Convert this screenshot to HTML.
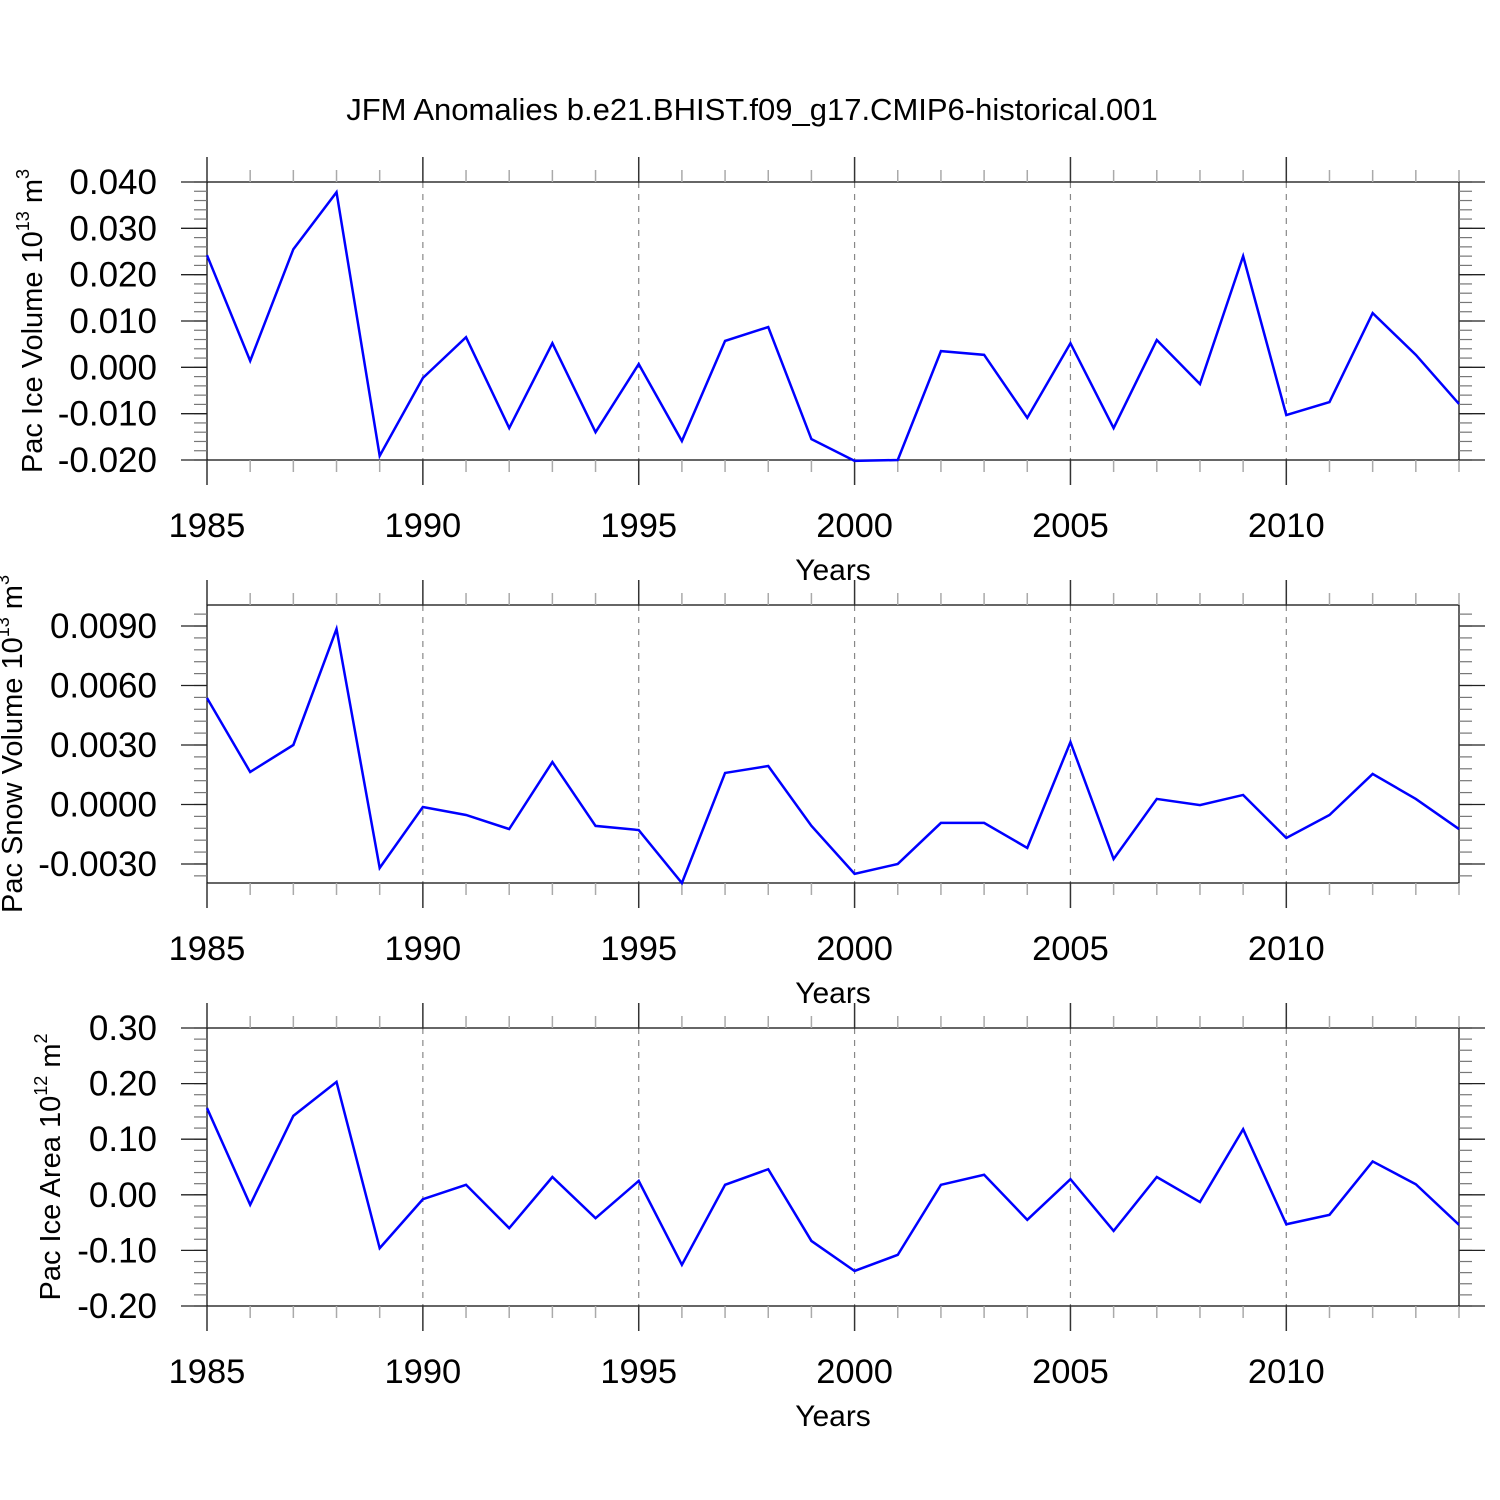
<!DOCTYPE html>
<html><head><meta charset="utf-8"><style>
body{margin:0;background:#fff}
svg{display:block;font-family:"Liberation Sans",sans-serif}
</style></head><body>
<svg id="c" width="1500" height="1500" viewBox="0 0 1500 1500" xmlns="http://www.w3.org/2000/svg">
<text x="752" y="120" font-size="31" text-anchor="middle">JFM Anomalies b.e21.BHIST.f09_g17.CMIP6-historical.001</text>
</svg>
<script>
const years=[1985,1986,1987,1988,1989,1990,1991,1992,1993,1994,1995,1996,1997,1998,1999,2000,2001,2002,2003,2004,2005,2006,2007,2008,2009,2010,2011,2012,2013,2014];
const iceVolume=[0.0242,0.0014,0.0255,0.0378,-0.0191,-0.0023,0.0065,-0.0131,0.0052,-0.0140,0.0007,-0.0159,0.0057,0.0087,-0.0155,-0.0202,-0.0200,0.0035,0.0027,-0.0109,0.0052,-0.0131,0.0059,-0.0036,0.0240,-0.0103,-0.0075,0.0117,0.0027,-0.0079];
const snowVolume=[0.00537,0.00164,0.0030,0.00885,-0.0032,-0.00013,-0.00053,-0.00124,0.00214,-0.00108,-0.00129,-0.00396,0.00159,0.00194,-0.00108,-0.0035,-0.0030,-0.00093,-0.00093,-0.00219,0.00315,-0.00275,0.00028,-0.00003,0.00048,-0.00169,-0.00053,0.00154,0.00028,-0.00124];
const iceArea=[0.156,-0.018,0.142,0.203,-0.096,-0.008,0.018,-0.060,0.032,-0.042,0.025,-0.126,0.018,0.046,-0.083,-0.137,-0.108,0.018,0.036,-0.045,0.028,-0.065,0.032,-0.013,0.118,-0.053,-0.036,0.060,0.019,-0.054];
const xTicks=[1985,1990,1995,2000,2005,2010];
const iceVolTicks=[0.04,0.03,0.02,0.01,0,-0.01,-0.02];
const iceVolLabels=["0.040","0.030","0.020","0.010","0.000","-0.010","-0.020"];
const snowTicks=[0.009,0.006,0.003,0,-0.003];
const snowLabels=["0.0090","0.0060","0.0030","0.0000","-0.0030"];
const areaTicks=[0.3,0.2,0.1,0,-0.1,-0.2];
const areaLabels=["0.30","0.20","0.10","0.00","-0.10","-0.20"];

const NS="http://www.w3.org/2000/svg";
const svg=document.getElementById('c');
const X0=207,X1=1459;
const xs=y=>X0+(y-1985)*(X1-X0)/29;
function mk(tag,at,parent){const e=document.createElementNS(NS,tag);for(const k in at)e.setAttribute(k,at[k]);(parent||svg).appendChild(e);return e;}
function panel(name,top,ymin,ymax,vals,ticks,labels,minorStep,titleParts){
  const bot=top+278;
  const g=mk('g',{});
  
  
  const ys=v=>bot-(v-ymin)/(ymax-ymin)*(bot-top);
  xTicks.slice(1).forEach(t=>{const l=mk('line',{x1:xs(t),x2:xs(t),y1:top,y2:bot,stroke:'#888','stroke-width':1.2,'stroke-dasharray':'6,6'},g);
    
    });
  const fr=mk('rect',{x:X0,y:top,width:X1-X0,height:bot-top,fill:'none',stroke:'#000','stroke-width':1.2},g);
  
  
  years.forEach(yr=>{const maj=xTicks.includes(yr);const L=maj?25:12;const x=xs(yr);
    mk('line',{x1:x,x2:x,y1:top-L,y2:top,stroke:maj?'#333':'#aaa','stroke-width':1.5},g);
    mk('line',{x1:x,x2:x,y1:bot,y2:bot+L,stroke:maj?'#333':'#aaa','stroke-width':1.5},g);});
  xTicks.forEach(t=>{const tx=mk('text',{x:xs(t),y:bot+77,'font-size':34.5,'text-anchor':'middle'},g);tx.textContent=t;
    
    });
  const xt=mk('text',{x:833,y:bot+120,'font-size':30,'text-anchor':'middle'},g);xt.textContent='Years';
  
  
  const start=Math.ceil((ymin-1e-9)/minorStep);
  for(let i=start;i*minorStep<=ymax+1e-9;i++){const y=ys(i*minorStep);if(y<top-0.5||y>bot+0.5)continue;
    mk('line',{x1:X0-13,x2:X0,y1:y,y2:y,stroke:'#777','stroke-width':1.2},g);
    mk('line',{x1:X1,x2:X1+13,y1:y,y2:y,stroke:'#777','stroke-width':1.2},g);}
  ticks.forEach((t,i)=>{const y=ys(t);
    mk('line',{x1:X0-26,x2:X0,y1:y,y2:y,stroke:'#222','stroke-width':1.3},g);
    mk('line',{x1:X1,x2:X1+26,y1:y,y2:y,stroke:'#222','stroke-width':1.3},g);
    const tx=mk('text',{x:157,y:y+12,'font-size':35,'text-anchor':'end'},g);tx.textContent=labels[i];
    
    });
  const yt=mk('text',{transform:`translate(${titleParts.x},${(top+bot)/2}) rotate(-90)`,'font-size':29,'text-anchor':'middle'},g);
  yt.innerHTML=titleParts.html;
  
  
  const p=mk('polyline',{points:vals.map((v,i)=>xs(years[i])+','+ys(v)).join(' '),fill:'none',stroke:'#0000ff','stroke-width':2.5,'stroke-linejoin':'miter'},g);
  
  
}
panel('ice-volume',182,-0.02,0.04,iceVolume,iceVolTicks,iceVolLabels,0.002,
 {x:42,html:'Pac Ice Volume 10<tspan font-size="18" dy="-13">13</tspan><tspan dy="13"> m</tspan><tspan font-size="18" dy="-13">3</tspan>'});
panel('snow-volume',605,-0.00396,0.01006,snowVolume,snowTicks,snowLabels,0.0006,
 {x:22,html:'Pac Snow Volume 10<tspan font-size="18" dy="-13">13</tspan><tspan dy="13"> m</tspan><tspan font-size="18" dy="-13">3</tspan>'});
panel('ice-area',1028,-0.2,0.3,iceArea,areaTicks,areaLabels,0.02,
 {x:60,html:'Pac Ice Area 10<tspan font-size="18" dy="-13">12</tspan><tspan dy="13"> m</tspan><tspan font-size="18" dy="-13">2</tspan>'});
</script>
</body></html>
